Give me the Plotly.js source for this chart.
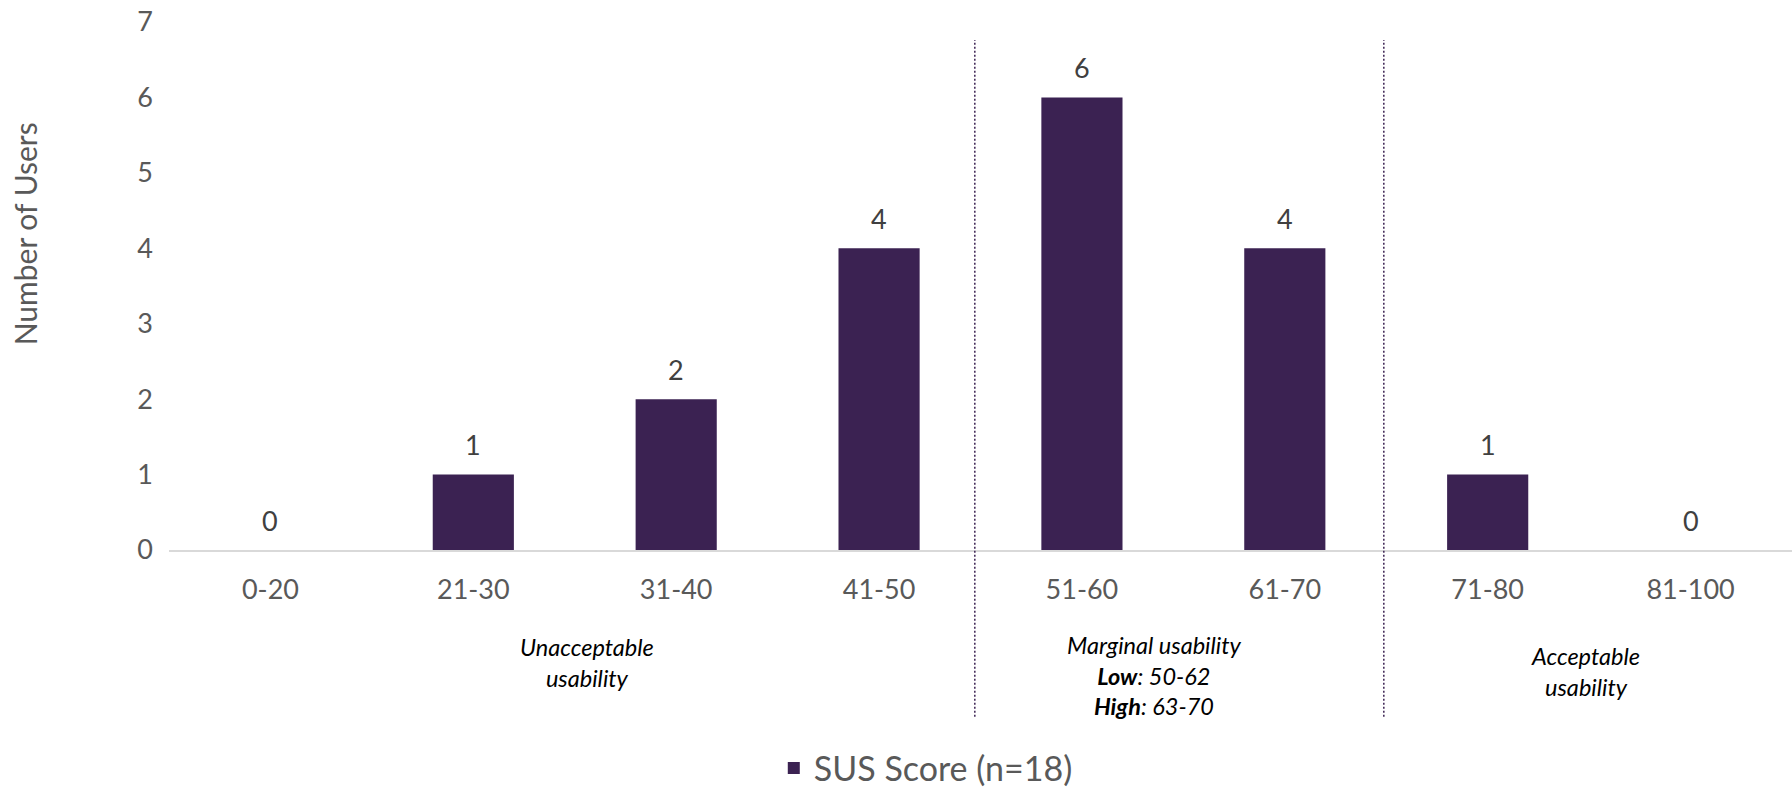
<!DOCTYPE html>
<html>
<head>
<meta charset="utf-8">
<script src="https://cdn.plot.ly/plotly-3.0.1.min.js"></script>
<style>
  html, body { margin: 0; padding: 0; background: #ffffff; }
  #chart { width: 1792px; height: 789px; }
</style>
</head>
<body>
<div id="chart"></div>
<script>
// SUS score bands and number of users in each band
const scoreBands = ['0-20', '21-30', '31-40', '41-50', '51-60', '61-70', '71-80', '81-100'];
const userCounts = [0, 1, 2, 4, 6, 4, 1, 0];
const seriesName = 'SUS Score (n=18)';

// Usability zones shown beneath the axis
const zoneLabels = [
  '<i>Unacceptable</i><br><i>usability</i>',
  '<i>Marginal usability</i><br><b><i>Low</i></b><i>: 50-62</i><br><b><i>High</i></b><i>: 63-70</i>',
  '<i>Acceptable</i><br><i>usability</i>'
];
const zoneCenters = [1.56, 4.36, 6.48];
const zoneBoundaries = [3.472, 5.488];

const FONT = 'Lato, "Open Sans", sans-serif';
const BAR_COLOR = '#3b2252';

const trace = {
  type: 'bar',
  x: scoreBands,
  y: userCounts,
  name: seriesName,
  marker: { color: BAR_COLOR },
  hoverinfo: 'x+y'
};

// value labels above each bar
const valueLabels = scoreBands.map((band, i) => ({
  x: band,
  y: userCounts[i],
  xref: 'x',
  yref: 'y',
  text: String(userCounts[i]),
  showarrow: false,
  yanchor: 'middle',
  yshift: 30,
  font: { family: FONT, size: 27, color: '#404040' }
}));

const zoneAnnotations = zoneLabels.map((txt, i) => ({
  x: zoneCenters[i],
  xref: 'x',
  y: i === 1 ? -0.237 : (i === 0 ? -0.213 : -0.230),
  yref: 'paper',
  text: txt,
  showarrow: false,
  xanchor: 'center',
  yanchor: 'middle',
  align: 'center',
  font: { family: FONT, size: 23.5, color: '#000000' }
}));

const yTitle = {
  x: -0.0887,
  xref: 'paper',
  y: 0.598,
  yref: 'paper',
  text: 'Number of Users',
  textangle: -90,
  showarrow: false,
  xanchor: 'center',
  yanchor: 'middle',
  font: { family: FONT, size: 30, color: '#595959' }
};

const boundaryShapes = zoneBoundaries.map(xv => ({
  type: 'line',
  xref: 'x',
  yref: 'paper',
  x0: xv, x1: xv,
  y0: -0.316, y1: 0.966,
  line: { color: '#3b2252', width: 1.5, dash: '2px,2px' }
}));

const layout = {
  width: 1792,
  height: 789,
  margin: { l: 169, r: 0, t: 22, b: 239 },
  paper_bgcolor: '#ffffff',
  plot_bgcolor: '#ffffff',
  font: { family: FONT, color: '#595959' },
  bargap: 0.6,
  xaxis: {
    type: 'category',
    showgrid: false,
    zeroline: false,
    showline: true,
    linecolor: '#d9d9d9',
    linewidth: 2,
    ticks: '',
    ticklabelstandoff: 15,
    tickfont: { family: FONT, size: 27, color: '#595959' },
    fixedrange: true
  },
  yaxis: {
    range: [0, 7],
    dtick: 1,
    showgrid: false,
    zeroline: false,
    showline: false,
    ticks: '',
    ticklabelstandoff: 15,
    tickfont: { family: FONT, size: 27, color: '#595959' },
    fixedrange: true
  },
  showlegend: true,
  legend: {
    orientation: 'h',
    xref: 'container',
    yref: 'container',
    x: 0.4318,
    xanchor: 'left',
    y: 0.026,
    yanchor: 'middle',
    font: { family: FONT, size: 34, color: '#595959' },
    bgcolor: 'rgba(0,0,0,0)'
  },
  annotations: valueLabels.concat(zoneAnnotations, [yTitle]),
  shapes: boundaryShapes
};

Plotly.newPlot('chart', [trace], layout, { displayModeBar: false, staticPlot: true });
</script>
</body>
</html>
